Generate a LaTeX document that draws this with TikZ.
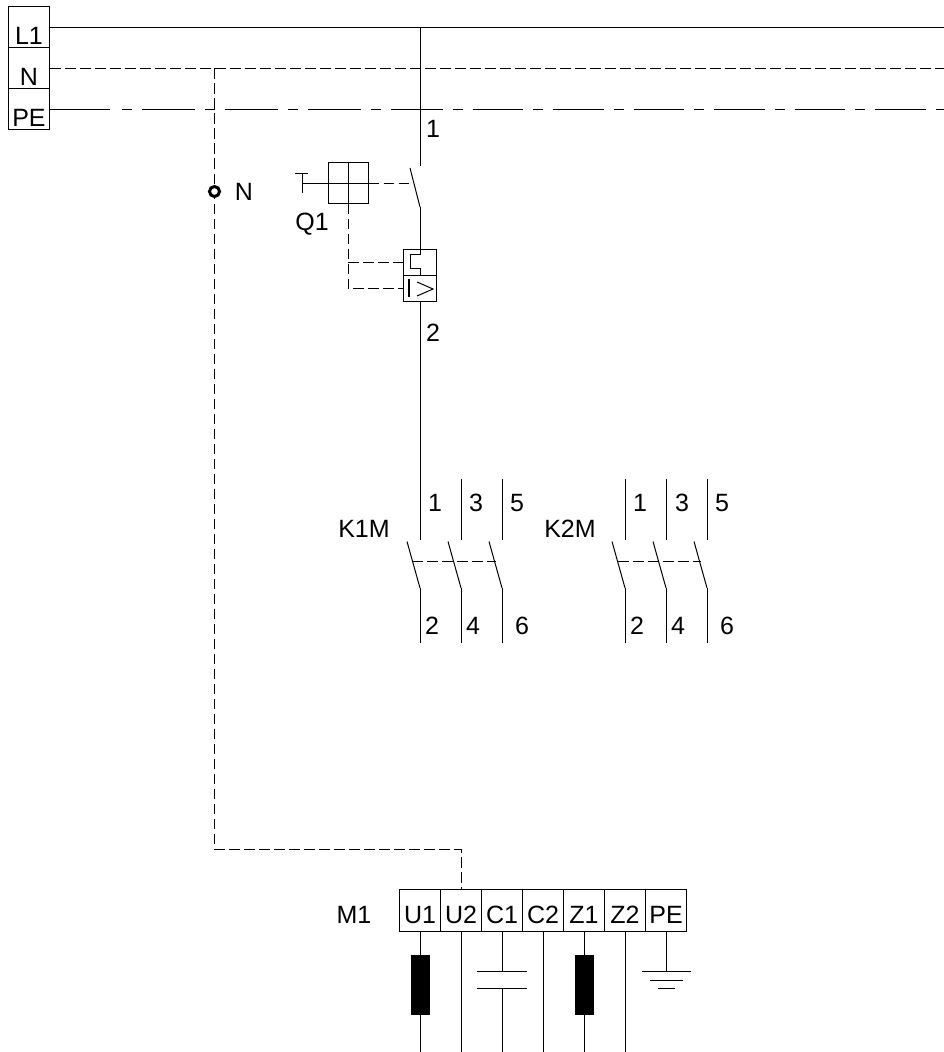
\documentclass[tikz,border=0pt]{standalone}
\usepackage{fontspec}
\setmainfont{Liberation Sans}
\tikzset{
  wire/.style={black, line width=0.75pt},
  nwire/.style={wire, dash pattern=on 8pt off 3.25pt},
  pewireA/.style={wire, dash pattern=on 39.75pt off 7.5pt on 7.5pt off 7.5pt},
  pewireB/.style={wire, dash pattern=on 37.9pt off 7.5pt on 7.5pt off 7.5pt},
  lbl/.style={inner sep=0pt, font=\fontsize{18.75}{20}\selectfont},
  rail/.style={lbl, draw, wire, minimum width=30.75pt, minimum height=30.75pt, text height=28pt, text depth=2.75pt},
  clamp/.style={lbl, draw, wire, minimum width=30.75pt, minimum height=31.5pt, text height=25.5pt, text depth=6pt},
  trip/.style={draw, wire, minimum width=24.75pt, minimum height=19.5pt, inner sep=0pt},
  coil/.style={fill=black, draw=black, minimum width=13.5pt, minimum height=44.25pt, inner sep=0pt}
}
\begin{document}
\begin{tikzpicture}[x=0.75pt, y=-0.75pt]
\useasboundingbox (0,0) rectangle (944,1052);
% rails
\node[rail] (L1) at (29,27.5) {L1};
\node[rail] (Nrail) at (29,68.5) {N};
\node[rail] (PErail) at (29,109.5) {PE};
\coordinate (L1end) at (944,27.5);
\coordinate (Nend) at (944,68.5);
\coordinate (PEa) at (110,109.5);
\coordinate (PEb) at (122,109.5);
\coordinate (PEc) at (132,109.5);
\coordinate (PEd) at (142,109.5);
\coordinate (PEe) at (392,109.5);
\coordinate (PEend) at (944,109.5);
\draw[wire] (L1.east) -- (L1end);
\draw[nwire] (Nrail.east) -- (Nend);
\draw[wire] (PErail.east) -- (PEa);
\draw[wire] (PEb) -- (PEc);
\draw[pewireA] (PEd) -- (PEe);
\draw[pewireB] (PEe) -- (PEend);
% breaker
\coordinate (Qtop) at (420,27.5);
\coordinate (Qa) at (420,166);
\coordinate (Qb) at (410,168);
\coordinate (Qc) at (420,207);
\draw[wire] (Qtop) -- (Qa);
\draw[wire] (Qb) -- (Qc);
\node[lbl] (n1) at (433,129) {1};
\node[lbl] (Q1) at (312,224) {Q1};
\node[draw, wire, minimum size=30pt, inner sep=0pt] (Qbox) at (348,183) {};
\draw[wire] (Qbox.north) -- (Qbox.south);
\draw[wire] (Qbox.west) -- (Qbox.east);
\coordinate (Tmid) at (302,183);
\coordinate (Ttop) at (302,173);
\coordinate (Tbot) at (302,193);
\coordinate (Tl) at (295,173);
\coordinate (Tr) at (308,173);
\draw[wire] (Tmid) -- (Qbox.west);
\draw[wire] (Ttop) -- (Tbot);
\draw[wire] (Tl) -- (Tr);
\coordinate (Qd) at (413.5,183);
\draw[nwire] (Qbox.east) -- (Qd);
% trip units
\node[trip] (therm) at (420,262) {};
\node[trip] (magn) at (420,288.5) {};
\draw[wire] (Qc) -- (therm.north);
\draw[wire] (therm.north) -- ++(0,6) -- ++(-10,0) -- ++(0,14) -- ++(10,0) -- (therm.south);
\draw[line width=1.5pt] (409,279) -- (409,297);
\draw[wire] (417,282) -- (433,289) -- (417,296);
\draw[nwire] (Qbox.south) |- (magn.west);
\coordinate (Qe) at (348,262);
\draw[nwire] (Qe) -- (therm.west);
\node[lbl] (n2) at (433,333) {2};
\coordinate (Kin) at (420,540);
\draw[wire] (magn.south) -- (Kin);
% contactors
\foreach \cname/\cx/\clx/\dl/\dr in {K1M/420/364/412/496, K2M/625/570/618/701}{
  \node[lbl] (\cname) at (\clx,529) {\cname};
  \foreach \i in {0,1,2}{
    \coordinate (\cname a\i) at (\cx+41*\i,479);
    \coordinate (\cname b\i) at (\cx+41*\i,540);
    \coordinate (\cname c\i) at (\cx+41*\i-13,541.5);
    \coordinate (\cname d\i) at (\cx+41*\i,588);
    \coordinate (\cname e\i) at (\cx+41*\i,643);
    \draw[wire] (\cname a\i) -- (\cname b\i);
    \draw[wire] (\cname c\i) -- (\cname d\i);
    \draw[wire] (\cname d\i) -- (\cname e\i);
  }
  \coordinate (\cname l) at (\dl,561);
  \coordinate (\cname r) at (\dr,561);
  \draw[nwire] (\cname l) -- (\cname r);
}
\foreach \txt/\tx/\ty in {1/435/503, 3/476/503, 5/517/503, 2/432/626, 4/473/626, 6/522/626,
  1/640/503, 3/682/503, 5/722/503, 2/637/626, 4/678/626, 6/727/626}{
  \node[lbl] at (\tx,\ty) {\txt};
}
% motor
\node[lbl] (M1) at (354,915) {M1};
\foreach \cname/\cx in {U1/420, U2/461, C1/502, C2/543, Z1/584, Z2/625, PEm/666}{
  \coordinate (\cname bot) at (\cx,1052);
}
\foreach \cname/\ctxt/\cx in {U1/U1/420, U2/U2/461, C1/C1/502, C2/C2/543, Z1/Z1/584, Z2/Z2/625, PEm/PE/666}{
  \node[clamp] (\cname) at (\cx,910) {\ctxt};
}
\foreach \cname in {U1,U2,C2,Z1,Z2}{
  \draw[wire] (\cname.south) -- (\cname bot);
}
\node[coil] (U1coil) at (420,984.5) {};
\node[coil] (Z1coil) at (584,984.5) {};
% capacitor
\coordinate (Ca) at (502,971);
\coordinate (Cb) at (502,988);
\draw[wire] (C1.south) -- (Ca);
\draw[wire] (Cb) -- (C1bot);
\draw[wire] (477,971) -- (527,971);
\draw[wire] (477,988) -- (527,988);
% earth
\coordinate (Ea) at (666,971);
\draw[wire] (PEm.south) -- (Ea);
\draw[wire] (642,971) -- (691,971);
\draw[wire] (650,980) -- (683,980);
\draw[wire] (658,988) -- (675,988);
% neutral
\coordinate (Na) at (214.5,68.5);
\coordinate (Nb) at (214.5,849);
\draw[nwire] (Na) -- (Nb) -| (U2.north);
\node[circle, draw, black, line width=2.25pt, fill=white, minimum size=7.5pt, inner sep=0pt] (Nterm) at (214.5,191.5) {};
\node[lbl] (Nlbl) at (244,192) {N};
\end{tikzpicture}
\end{document}
